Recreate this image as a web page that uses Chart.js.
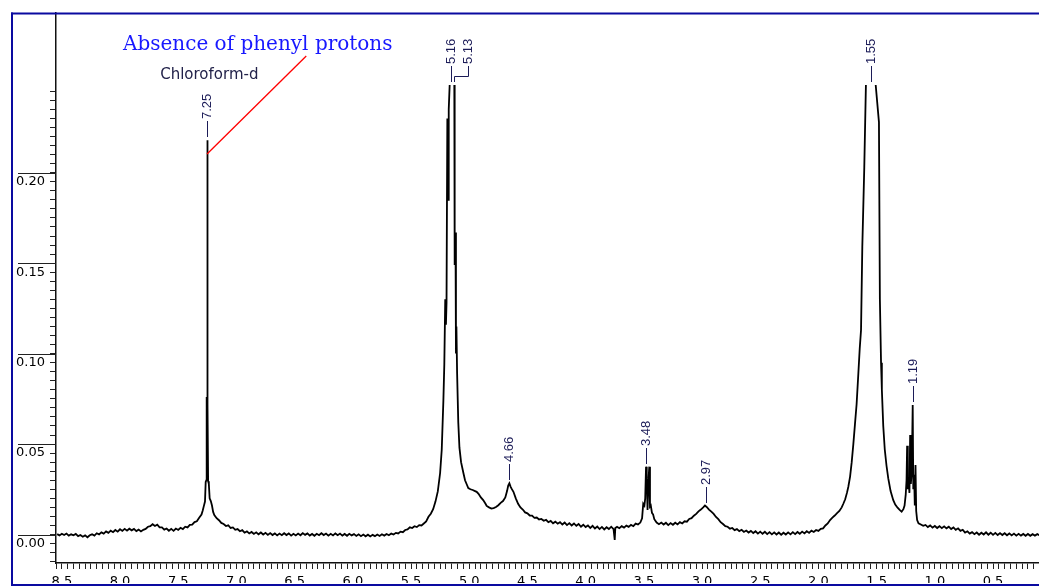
<!DOCTYPE html>
<html>
<head>
<meta charset="utf-8">
<script src="https://cdn.jsdelivr.net/npm/chart.js@4.4.1/dist/chart.umd.min.js"></script>
<style>
  html, body { margin: 0; padding: 0; background: #fff; }
  #wrap { width: 1039px; height: 586px; }
</style>
</head>
<body>
<div id="wrap"><canvas id="chart" width="1039" height="586"></canvas></div>
<script>
// 1H NMR trace: [chemical shift (ppm), intensity]. null = off scale (clipped).
const spectrum = [
  [8.54,0.0002],[8.52,-0.0005],[8.50,0.0004],[8.48,-0.0003],[8.46,0.0005],[8.44,-0.0006],[8.42,0.0001],[8.40,-0.0004],
  [8.38,0.0003],[8.36,-0.0009],[8.34,-0.0003],[8.32,-0.0012],[8.30,-0.0005],[8.28,-0.0015],[8.26,-0.0004],[8.24,0.0001],
  [8.22,-0.0006],[8.20,0.0007],[8.18,0.0001],[8.16,0.0012],[8.14,0.0005],[8.12,0.0017],[8.10,0.0009],[8.08,0.0021],
  [8.06,0.0013],[8.04,0.0025],[8.02,0.0016],[8.00,0.0029],[7.98,0.0020],[7.96,0.0031],[7.94,0.0021],[7.92,0.0032],
  [7.90,0.0023],[7.88,0.0031],[7.86,0.0019],[7.84,0.0027],[7.82,0.0017],[7.80,0.0026],[7.78,0.0031],[7.76,0.0043],
  [7.74,0.0046],[7.72,0.0057],[7.70,0.0047],[7.68,0.0054],[7.66,0.0040],[7.64,0.0039],[7.62,0.0027],[7.60,0.0033],
  [7.58,0.0021],[7.56,0.0031],[7.54,0.0020],[7.52,0.0033],[7.50,0.0025],[7.48,0.0037],[7.46,0.0030],[7.44,0.0043],
  [7.42,0.0039],[7.40,0.0053],[7.38,0.0055],[7.36,0.0069],[7.34,0.0073],[7.32,0.0093],[7.30,0.0110],
  // CDCl3 7.25
  [7.29,0.0131],[7.28,0.0157],[7.27,0.0182],[7.264,0.0290],[7.258,0.0300],[7.2555,0.0760],[7.2525,0.0700],
  [7.2505,0.2180],[7.2485,0.0800],[7.2465,0.0720],[7.243,0.0295],[7.237,0.0280],[7.23,0.0200],[7.22,0.0185],
  [7.21,0.0160],[7.20,0.0125],[7.19,0.0108],[7.17,0.0090],[7.15,0.0079],[7.13,0.0064],[7.11,0.0058],[7.09,0.0047],
  [7.07,0.0051],[7.05,0.0036],[7.03,0.0039],[7.01,0.0026],[6.99,0.0030],[6.97,0.0018],[6.95,0.0024],
  [6.93,0.0010],[6.91,0.0017],[6.89,0.0006],[6.87,0.0014],[6.85,0.0003],[6.83,0.0012],[6.81,0.0001],[6.79,0.0011],
  [6.77,0.0000],[6.75,0.0009],[6.73,-0.0002],[6.71,0.0008],[6.69,-0.0003],[6.67,0.0006],[6.65,-0.0005],[6.63,0.0005],
  [6.61,-0.0004],[6.59,0.0007],[6.57,-0.0003],[6.55,0.0006],[6.53,-0.0006],[6.51,0.0004],[6.49,-0.0005],[6.47,0.0005],
  [6.45,-0.0004],[6.43,0.0008],[6.41,-0.0002],[6.39,0.0006],[6.37,-0.0006],[6.35,0.0003],[6.33,-0.0007],[6.31,0.0004],
  [6.29,-0.0004],[6.27,0.0007],[6.25,-0.0003],[6.23,0.0005],[6.21,-0.0006],[6.19,0.0004],[6.17,-0.0005],[6.15,0.0006],
  [6.13,-0.0004],[6.11,0.0005],[6.09,-0.0006],[6.07,0.0003],[6.05,-0.0007],[6.03,0.0004],[6.01,-0.0005],[5.99,0.0002],
  [5.97,-0.0008],[5.95,0.0001],[5.93,-0.0009],[5.91,0.0000],[5.89,-0.0010],[5.87,-0.0001],[5.85,-0.0011],[5.83,-0.0002],
  [5.81,-0.0009],[5.79,0.0000],[5.77,-0.0008],[5.75,0.0001],[5.73,-0.0006],[5.71,0.0003],[5.69,-0.0004],[5.67,0.0005],
  [5.65,0.0000],[5.63,0.0009],[5.61,0.0006],[5.59,0.0016],[5.57,0.0013],[5.55,0.0025],[5.53,0.0028],[5.51,0.0040],
  [5.49,0.0036],[5.47,0.0046],[5.45,0.0041],[5.43,0.0052],[5.41,0.0050],[5.39,0.0061],[5.37,0.0072],[5.35,0.0098],
  [5.33,0.0115],[5.31,0.0140],[5.29,0.0182],[5.27,0.0238],[5.25,0.0340],
  // olefinic 5.16 / 5.13 (off scale at the top)
  [5.236,0.0470],[5.222,0.0740],[5.214,0.0940],[5.206,0.1300],[5.200,0.1160],[5.195,0.1280],[5.188,0.2300],
  [5.182,0.1850],[5.176,0.2350],[5.168,0.2485],[5.15,null],[5.128,0.2485],[5.125,0.1490],[5.118,0.1670],
  [5.114,0.1000],[5.110,0.1150],[5.104,0.0890],[5.094,0.0620],[5.084,0.0480],[5.07,0.0400],[5.05,0.0340],
  [5.036,0.0300],[5.02,0.0275],[5.008,0.0257],[4.99,0.0250],[4.97,0.0246],[4.95,0.0240],[4.936,0.0236],
  [4.92,0.0225],[4.90,0.0205],[4.88,0.0190],[4.86,0.0170],[4.85,0.0158],[4.83,0.0150],[4.81,0.0144],[4.79,0.0146],
  [4.77,0.0152],[4.75,0.0162],[4.73,0.0175],[4.71,0.0185],[4.69,0.0205],[4.675,0.0240],[4.665,0.0270],
  [4.655,0.0283],[4.645,0.0265],[4.635,0.0252],[4.62,0.0236],[4.60,0.0200],[4.58,0.0170],[4.56,0.0150],
  [4.54,0.0138],[4.52,0.0122],[4.50,0.0117],[4.48,0.0105],[4.46,0.0104],[4.44,0.0092],[4.42,0.0094],[4.40,0.0083],
  [4.38,0.0086],[4.36,0.0076],[4.34,0.0081],[4.32,0.0068],[4.30,0.0075],[4.28,0.0062],[4.26,0.0071],[4.24,0.0060],
  [4.22,0.0068],[4.20,0.0055],[4.18,0.0066],[4.16,0.0052],[4.14,0.0063],[4.12,0.0050],[4.10,0.0061],[4.08,0.0048],
  [4.06,0.0058],[4.04,0.0043],[4.02,0.0054],[4.00,0.0041],[3.98,0.0050],[3.96,0.0036],[3.94,0.0048],[3.92,0.0033],
  [3.90,0.0044],[3.88,0.0030],[3.86,0.0042],[3.84,0.0028],[3.82,0.0040],[3.80,0.0030],[3.78,0.0043],[3.76,0.0029],
  [3.75,-0.0030],[3.745,0.0036],[3.73,0.0042],[3.71,0.0035],[3.69,0.0046],[3.67,0.0038],[3.65,0.0049],[3.63,0.0042],
  [3.61,0.0053],[3.59,0.0046],[3.57,0.0060],[3.55,0.0055],[3.53,0.0066],
  // 3.48 doublet
  [3.515,0.0090],[3.505,0.0170],[3.495,0.0160],[3.488,0.0200],[3.481,0.0375],[3.475,0.0310],[3.468,0.0135],
  [3.460,0.0300],[3.453,0.0375],[3.447,0.0154],[3.44,0.0160],[3.43,0.0120],[3.42,0.0110],[3.41,0.0085],
  [3.39,0.0066],[3.37,0.0057],[3.35,0.0066],[3.33,0.0055],[3.31,0.0065],[3.29,0.0052],[3.27,0.0063],[3.25,0.0054],
  [3.23,0.0065],[3.21,0.0056],[3.19,0.0068],[3.17,0.0061],[3.15,0.0073],[3.13,0.0071],[3.11,0.0086],[3.09,0.0090],
  [3.07,0.0104],[3.05,0.0114],[3.03,0.0128],[3.01,0.0138],[2.99,0.0150],[2.975,0.0160],[2.96,0.0152],[2.94,0.0138],
  [2.92,0.0126],[2.90,0.0114],[2.88,0.0097],[2.86,0.0085],[2.84,0.0068],[2.82,0.0058],[2.80,0.0046],[2.78,0.0043],
  [2.76,0.0032],[2.74,0.0036],[2.72,0.0024],[2.70,0.0030],[2.68,0.0019],[2.66,0.0026],[2.64,0.0014],[2.62,0.0022],
  [2.60,0.0011],[2.58,0.0020],[2.56,0.0008],[2.54,0.0018],[2.52,0.0005],[2.50,0.0016],[2.48,0.0004],[2.46,0.0015],
  [2.44,0.0002],[2.42,0.0013],[2.40,0.0001],[2.38,0.0012],[2.36,0.0000],[2.34,0.0011],[2.32,-0.0001],[2.30,0.0010],
  [2.28,0.0000],[2.26,0.0012],[2.24,0.0001],[2.22,0.0013],[2.20,0.0002],[2.18,0.0014],[2.16,0.0004],[2.14,0.0016],
  [2.12,0.0006],[2.10,0.0018],[2.08,0.0009],[2.06,0.0021],[2.04,0.0014],[2.02,0.0025],[2.00,0.0020],[1.98,0.0031],
  [1.96,0.0034],[1.94,0.0050],[1.92,0.0061],[1.90,0.0080],[1.88,0.0093],[1.86,0.0105],[1.84,0.0118],[1.82,0.0130],
  [1.80,0.0150],[1.786,0.0170],[1.77,0.0195],[1.755,0.0230],[1.743,0.0264],[1.728,0.0320],[1.714,0.0400],
  // 1.55 (off scale at the top)
  [1.70,0.0500],[1.686,0.0610],[1.672,0.0720],[1.657,0.0890],[1.645,0.1030],[1.634,0.1130],[1.623,0.1590],
  [1.606,0.2030],[1.592,0.2485],[1.55,null],[1.508,0.2485],[1.480,0.2280],[1.472,0.1300],[1.462,0.0950],
  [1.455,0.0800],[1.443,0.0600],[1.43,0.0470],[1.415,0.0380],[1.40,0.0310],[1.38,0.0240],[1.357,0.0190],
  [1.34,0.0165],[1.32,0.0148],[1.30,0.0135],[1.285,0.0126],[1.27,0.0140],[1.26,0.0160],[1.25,0.0220],
  // 1.19 cluster
  [1.243,0.0300],[1.238,0.0490],[1.232,0.0250],[1.226,0.0300],[1.218,0.0230],[1.212,0.0550],[1.206,0.0280],
  [1.198,0.0350],[1.19,0.0716],[1.185,0.0250],[1.178,0.0330],[1.172,0.0160],[1.166,0.0384],[1.160,0.0130],
  [1.152,0.0080],[1.14,0.0062],[1.12,0.0055],[1.10,0.0048],[1.08,0.0053],[1.06,0.0041],[1.04,0.0050],[1.02,0.0038],
  [1.00,0.0047],[0.98,0.0036],[0.96,0.0046],[0.94,0.0035],[0.92,0.0045],[0.90,0.0034],[0.88,0.0043],[0.86,0.0030],
  [0.84,0.0039],[0.82,0.0026],[0.80,0.0034],[0.78,0.0020],[0.76,0.0026],[0.74,0.0011],[0.72,0.0018],[0.70,0.0005],
  [0.68,0.0013],[0.66,0.0002],[0.64,0.0011],[0.62,-0.0001],[0.60,0.0010],[0.58,0.0000],[0.56,0.0012],[0.54,-0.0001],
  [0.52,0.0010],[0.50,-0.0002],[0.48,0.0009],[0.46,-0.0003],[0.44,0.0008],[0.42,-0.0003],[0.40,0.0007],[0.38,-0.0004],
  [0.36,0.0006],[0.34,-0.0005],[0.32,0.0005],[0.30,-0.0006],[0.28,0.0004],[0.26,-0.0006],[0.24,0.0003],[0.22,-0.0007],
  [0.20,0.0003],[0.18,-0.0007],[0.16,0.0002],[0.14,-0.0006],[0.12,0.0002],[0.10,-0.0005]
];

const peakShifts = [7.25, 5.16, 5.13, 4.66, 3.48, 2.97, 1.55, 1.19];
const peakLabels = ['7.25', '5.16', '5.13', '4.66', '3.48', '2.97', '1.55', '1.19'];

const xTickValues = [8.5, 8.0, 7.5, 7.0, 6.5, 6.0, 5.5, 5.0, 4.5, 4.0, 3.5, 3.0, 2.5, 2.0, 1.5, 1.0, 0.5];
const yTickValues = [0.00, 0.05, 0.10, 0.15, 0.20];

const noteText = 'Absence of phenyl protons';
const solventText = 'Chloroform-d';
const pointer = [[7.2525, 0.2103], [6.40, 0.2645]];   // red line, in ppm / intensity

function near(list, v) {
  return list.some(t => Math.abs(t - v) < 1e-6);
}

function peakTop(shift) {
  let best = 0;
  spectrum.forEach(([p, v]) => {
    if (v !== null && Math.abs(p - shift) <= 0.045 && v > best) best = v;
  });
  return best;
}

const annotate = {
  id: 'annotate',
  beforeDraw(chart) {
    const ctx = chart.ctx;
    ctx.save();
    ctx.fillStyle = '#fff';
    ctx.fillRect(0, 0, chart.width, chart.height);
    ctx.restore();
  },
  afterDraw(chart) {
    const { ctx, scales: { x, y } } = chart;
    const W = chart.width, H = chart.height;
    ctx.save();

    // long marks at the labelled intensities
    ctx.strokeStyle = '#222';
    ctx.lineWidth = 1;
    yTickValues.forEach(v => {
      const py = Math.round(y.getPixelForValue(v)) + 0.5;
      ctx.beginPath();
      ctx.moveTo(18, py);
      ctx.lineTo(x.left, py);
      ctx.stroke();
    });

    // peak labels, vertical text with leaders
    const items = peakShifts.map((s, i) => ({
      px: Math.round(x.getPixelForValue(s)) + 0.5,
      top: y.getPixelForValue(peakTop(s)),
      text: peakLabels[i]
    })).sort((a, b) => a.px - b.px);
    let prev = -Infinity;
    ctx.font = '13px "Liberation Sans", Arial, sans-serif';
    ctx.fillStyle = '#1c1c58';
    ctx.strokeStyle = '#1c1c58';
    items.forEach(it => {
      const lx = Math.max(it.px, prev + 17);
      prev = lx;
      const bottom = Math.round(it.top) - 3;
      const leaderTop = bottom - 16;
      ctx.beginPath();
      if (lx - it.px > 0.5) {
        const mid = bottom - 6 + 0.5;
        ctx.moveTo(lx, leaderTop);
        ctx.lineTo(lx, mid);
        ctx.lineTo(it.px, mid);
        ctx.lineTo(it.px, bottom);
      } else {
        ctx.moveTo(lx, leaderTop);
        ctx.lineTo(lx, bottom);
      }
      ctx.stroke();
      ctx.save();
      ctx.translate(lx, leaderTop - 2);
      ctx.rotate(-Math.PI / 2);
      ctx.textAlign = 'left';
      ctx.textBaseline = 'middle';
      ctx.fillText(it.text, 0, 0);
      ctx.restore();
    });

    // red pointer
    ctx.strokeStyle = '#ff0000';
    ctx.lineWidth = 1.3;
    ctx.beginPath();
    ctx.moveTo(x.getPixelForValue(pointer[0][0]), y.getPixelForValue(pointer[0][1]));
    ctx.lineTo(x.getPixelForValue(pointer[1][0]), y.getPixelForValue(pointer[1][1]));
    ctx.stroke();

    // notes
    ctx.fillStyle = '#1818ff';
    ctx.font = '20px "DejaVu Serif", serif';
    ctx.textAlign = 'left';
    ctx.textBaseline = 'alphabetic';
    ctx.fillText(noteText, 123, 50);

    ctx.fillStyle = '#22224a';
    ctx.font = '15px "DejaVu Sans", sans-serif';
    ctx.textAlign = 'center';
    ctx.fillText(solventText, x.getPixelForValue(7.25) + 2, 79);

    // window frame
    ctx.fillStyle = '#fff';
    ctx.fillRect(0, 0, 11, H);
    ctx.fillRect(0, 0, W, 12);
    ctx.fillRect(0, 583, W, H - 583);
    ctx.fillStyle = '#0a0aa0';
    ctx.fillRect(11, 12.5, W, 2);
    ctx.fillRect(11, 12.5, 2, H);
    ctx.fillRect(11, 584, W, 2);
    ctx.restore();
  }
};

const tickFont = { family: '"DejaVu Sans", sans-serif', size: 13 };

new Chart(document.getElementById('chart'), {
  type: 'line',
  data: {
    datasets: [{
      data: spectrum.map(([p, v]) => ({ x: p, y: v })),
      borderColor: '#000',
      borderWidth: 1.8,
      pointRadius: 0,
      tension: 0,
      spanGaps: false,
      fill: false
    }]
  },
  options: {
    responsive: false,
    animation: false,
    devicePixelRatio: 1,
    layout: { padding: { top: 13, left: 0, right: 0, bottom: 0 } },
    plugins: { legend: { display: false }, tooltip: { enabled: false } },
    scales: {
      x: {
        type: 'linear',
        reverse: true,
        min: 0.105,
        max: 8.55,
        afterFit: s => { s.height = 23; },
        border: { display: true, color: '#111', width: 1.5 },
        grid: { drawOnChartArea: false, drawTicks: true, tickLength: 6, color: '#222', tickColor: '#222' },
        ticks: {
          stepSize: 0.05,
          autoSkip: false,
          includeBounds: false,
          maxRotation: 0,
          minRotation: 0,
          padding: 5,
          color: '#000',
          font: tickFont,
          callback: v => near(xTickValues, v) ? v.toFixed(1) : ''
        }
      },
      y: {
        type: 'linear',
        min: -0.01575,
        max: 0.28828,
        afterFit: s => { s.width = 56; },
        border: { display: true, color: '#111', width: 1.5 },
        grid: { drawOnChartArea: false, drawTicks: true, tickLength: 6, color: '#222', tickColor: '#222' },
        ticks: {
          stepSize: 0.005,
          autoSkip: false,
          includeBounds: false,
          padding: 5,
          labelOffset: 9,
          color: '#000',
          font: tickFont,
          callback: v => {
            if (v > 0.2455) return null;
            return near(yTickValues, v) ? v.toFixed(2) : '';
          }
        }
      }
    }
  },
  plugins: [annotate]
});
</script>
</body>
</html>
